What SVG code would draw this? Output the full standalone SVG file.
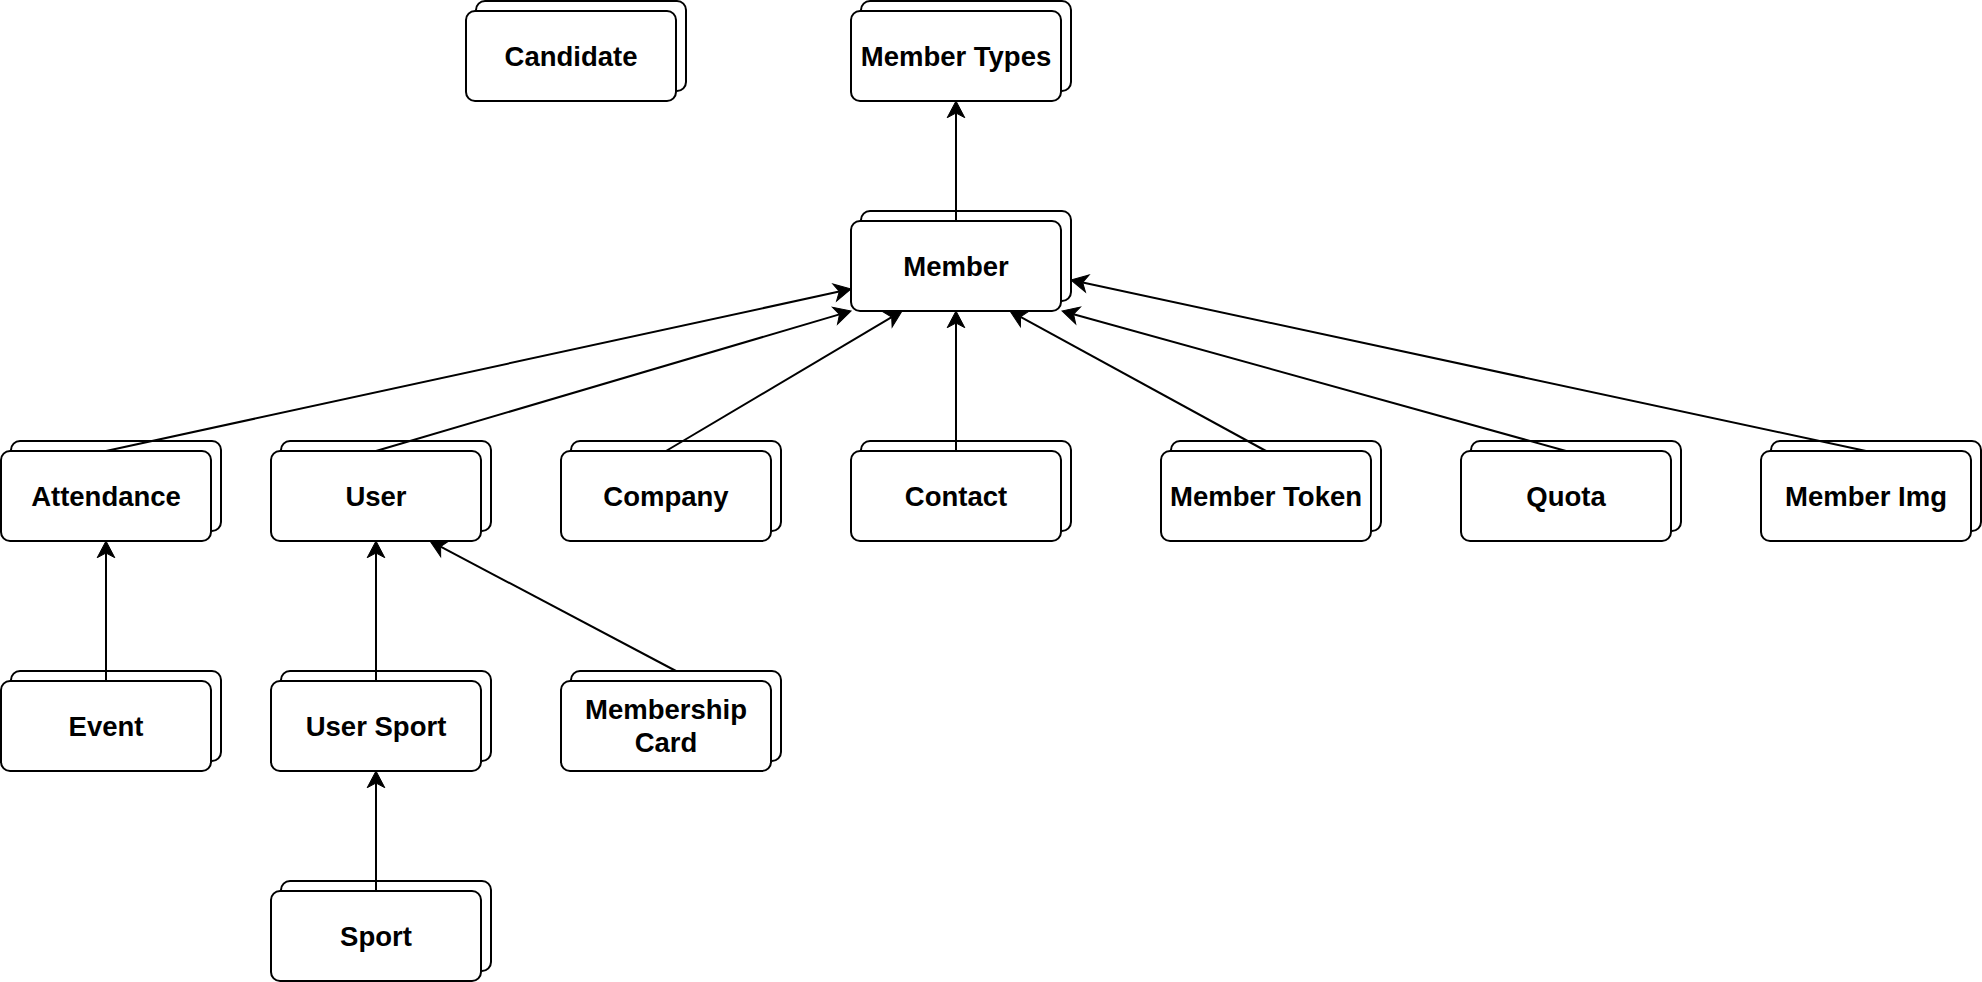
<svg xmlns="http://www.w3.org/2000/svg" width="1982" height="982" viewBox="0 0 1982 982">
<style>
rect{fill:#fff;stroke:#000;stroke-width:2}
text{font-family:"Liberation Sans",Arial,sans-serif;font-weight:bold;font-size:27.5px;text-anchor:middle;fill:#000}
#connectors line{stroke:#000;stroke-width:2;fill:none;marker-end:url(#arr)}
</style>
<defs>
<marker id="arr" markerUnits="userSpaceOnUse" orient="auto" refX="0" refY="0" markerWidth="40" markerHeight="40" overflow="visible">
<path d="M12,0 L-4.7,-8.8 L0,0 L-4.7,8.8 Z" fill="#000" stroke="#000" stroke-width="1" stroke-linejoin="miter"/>
</marker>
</defs>
<rect width="1982" height="982" style="fill:#fff;stroke:none"/>
<g id="candidate"><rect x="476" y="1" width="210" height="90" rx="9"/><rect x="466" y="11" width="210" height="90" rx="9"/><text x="571" y="65.8">Candidate</text></g>
<g id="member-types"><rect x="861" y="1" width="210" height="90" rx="9"/><rect x="851" y="11" width="210" height="90" rx="9"/><text x="956" y="65.8">Member Types</text></g>
<g id="member"><rect x="861" y="211" width="210" height="90" rx="9"/><rect x="851" y="221" width="210" height="90" rx="9"/><text x="956" y="275.8">Member</text></g>
<g id="attendance"><rect x="11" y="441" width="210" height="90" rx="9"/><rect x="1" y="451" width="210" height="90" rx="9"/><text x="106" y="505.8">Attendance</text></g>
<g id="user"><rect x="281" y="441" width="210" height="90" rx="9"/><rect x="271" y="451" width="210" height="90" rx="9"/><text x="376" y="505.8">User</text></g>
<g id="company"><rect x="571" y="441" width="210" height="90" rx="9"/><rect x="561" y="451" width="210" height="90" rx="9"/><text x="666" y="505.8">Company</text></g>
<g id="contact"><rect x="861" y="441" width="210" height="90" rx="9"/><rect x="851" y="451" width="210" height="90" rx="9"/><text x="956" y="505.8">Contact</text></g>
<g id="member-token"><rect x="1171" y="441" width="210" height="90" rx="9"/><rect x="1161" y="451" width="210" height="90" rx="9"/><text x="1266" y="505.8">Member Token</text></g>
<g id="quota"><rect x="1471" y="441" width="210" height="90" rx="9"/><rect x="1461" y="451" width="210" height="90" rx="9"/><text x="1566" y="505.8">Quota</text></g>
<g id="member-img"><rect x="1771" y="441" width="210" height="90" rx="9"/><rect x="1761" y="451" width="210" height="90" rx="9"/><text x="1866" y="505.8">Member Img</text></g>
<g id="event"><rect x="11" y="671" width="210" height="90" rx="9"/><rect x="1" y="681" width="210" height="90" rx="9"/><text x="106" y="735.8">Event</text></g>
<g id="user-sport"><rect x="281" y="671" width="210" height="90" rx="9"/><rect x="271" y="681" width="210" height="90" rx="9"/><text x="376" y="735.8">User Sport</text></g>
<g id="membership-card"><rect x="571" y="671" width="210" height="90" rx="9"/><rect x="561" y="681" width="210" height="90" rx="9"/><text x="666" y="719.3">Membership</text><text x="666" y="752.3">Card</text></g>
<g id="sport"><rect x="281" y="881" width="210" height="90" rx="9"/><rect x="271" y="891" width="210" height="90" rx="9"/><text x="376" y="945.8">Sport</text></g>
<g id="connectors">
<line x1="956" y1="221" x2="956" y2="113"/>
<line x1="106" y1="451" x2="839.27" y2="291.55"/>
<line x1="376" y1="451" x2="839.49" y2="314.39"/>
<line x1="666" y1="451" x2="891.68" y2="317.12"/>
<line x1="956" y1="451" x2="956" y2="323"/>
<line x1="1266" y1="451" x2="1020.53" y2="316.76"/>
<line x1="1566" y1="451" x2="1073.56" y2="314.21"/>
<line x1="1866" y1="451" x2="1082.73" y2="282.52"/>
<line x1="106" y1="681" x2="106" y2="553"/>
<line x1="376" y1="681" x2="376" y2="553"/>
<line x1="376" y1="891" x2="376" y2="783"/>
<line x1="676" y1="671" x2="440.61" y2="546.61"/>
</g>
</svg>
